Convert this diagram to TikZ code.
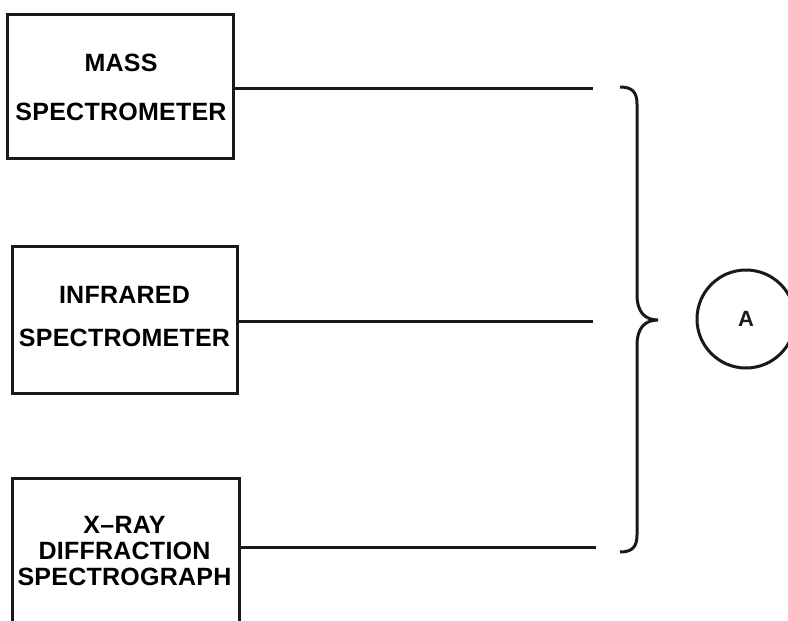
\documentclass[tikz,border=0pt]{standalone}
\usepackage{fontspec}
\setmainfont{Liberation Sans}[LetterSpace=1]
\begin{document}
\begin{tikzpicture}[x=1pt,y=-1pt,
  ink/.style={line width=3pt,color=black!90},
  boxstyle/.style={draw,ink,rectangle,inner sep=0pt},
  lbl/.style={align=center,inner sep=0pt},
  conn/.style={ink}]
\useasboundingbox (0,0) rectangle (788,621);
\node[boxstyle,minimum width=226pt,minimum height=144pt] (ms) at (120,86) {};
\node[lbl,font=\fontsize{25}{49}\selectfont\bfseries] (mst) at (121,87) {MASS\\SPECTROMETER};
\node[boxstyle,minimum width=225pt,minimum height=147pt] (ir) at (124.5,319.5) {};
\node[lbl,font=\fontsize{25}{43}\selectfont\bfseries] (irt) at (124.5,317) {INFRARED\\SPECTROMETER};
\node[boxstyle,minimum width=227pt,minimum height=150pt,anchor=north west] (xr) at (11,477) {};
\node[lbl,font=\fontsize{25}{26}\selectfont\bfseries] (xrt) at (124.5,551) {X--RAY\\DIFFRACTION\\SPECTROGRAPH};
\coordinate (e1) at (593,88);
\coordinate (e2) at (593,321);
\coordinate (e3) at (596,547);
\draw[conn] (ms.east |- e1) -- (e1);
\draw[conn] (ir.east |- e2) -- (e2);
\draw[conn] (xr.east |- e3) -- (e3);
\coordinate (bt) at (620,87);
\coordinate (tip) at (658,320);
\coordinate (bb) at (620,552);
\draw[ink] (bt) .. controls (632,87) and (637,92) .. (637,104)
  -- (637,295) .. controls (637,312) and (645,320) .. (tip)
  .. controls (645,320) and (637,328) .. (637,345)
  -- (637,535) .. controls (637,547) and (632,552) .. (bb);
\node[draw,ink,circle,minimum size=98pt,inner sep=0pt,font=\fontsize{22}{26}\selectfont\bfseries] (A) at (746,319) {A};
\end{tikzpicture}
\end{document}
